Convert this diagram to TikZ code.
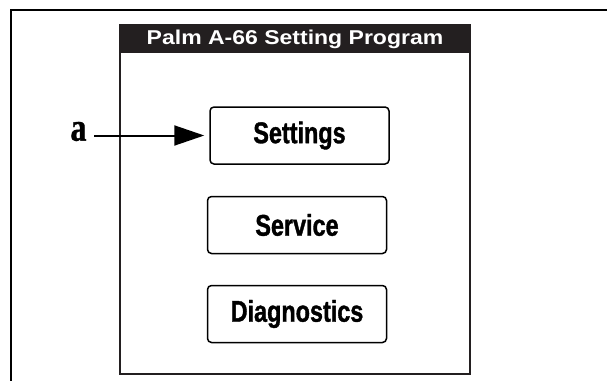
\documentclass[tikz,border=0pt]{standalone}
\usepackage{fontspec}
\usetikzlibrary{arrows.meta}
\newfontfamily\btnfont[FakeStretch=0.78,FakeBold=1.2]{Liberation Sans}
\newfontfamily\titlefont[FakeStretch=1.15]{Liberation Sans}
\newfontfamily\lblfont[FakeStretch=0.8,FakeBold=1]{Liberation Serif}
\definecolor{panelgray}{HTML}{231F20}
\tikzset{
  btn/.style={draw=black, line width=1.5pt, rounded corners=4pt, minimum width=179pt, minimum height=57pt, inner sep=0pt, font=\btnfont\bfseries\fontsize{30}{32}\selectfont},
  framestroke/.style={line width=2.5pt, black},
  pointer/.style={line width=2pt, -{Triangle[length=30pt,width=20pt]}, shorten >=5pt}
}
\begin{document}
\begin{tikzpicture}[x=1pt,y=-1pt]
\useasboundingbox (0,0) rectangle (607,380);
% outer (cropped) frame
\draw[framestroke] (11,381) -- (11,10) -- (608,10);
% panel
\fill[panelgray] (120,25) rectangle (470,53);
\draw[panelgray, line width=2pt] (120,25) rectangle (470,374);
\node[text=white, font=\titlefont\bfseries\fontsize{20}{21}\selectfont] (title) at (295,39.5) {Palm A-66 Setting Program};
% buttons
\node[btn] (settings) at (299.5,135.5) {Settings};
\node[btn] (service) at (297,225) {Service};
\node[btn] (diag) at (297,314) {Diagnostics};
% label and arrow
\node[font=\lblfont\bfseries\fontsize{40}{42}\selectfont, inner sep=0pt] (a) at (78.5,131.5) {a};
\coordinate (astart) at (94,135.5);
\draw[pointer] (astart) -- (settings.west);
\end{tikzpicture}
\end{document}
